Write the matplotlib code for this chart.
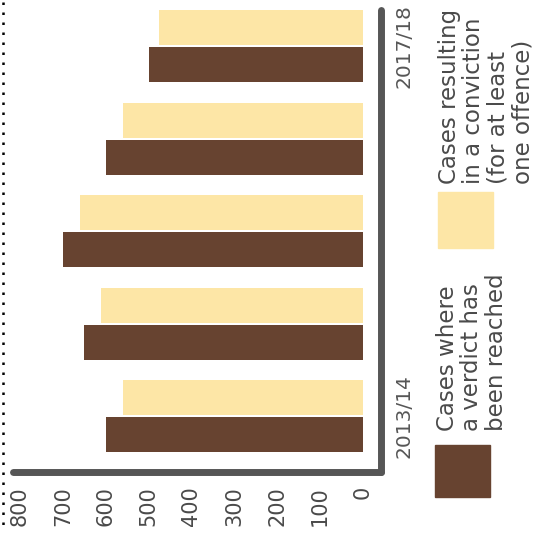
import matplotlib.pyplot as plt
import numpy as np
from matplotlib.patches import Rectangle
from matplotlib.lines import Line2D

# Court cases per year
years = ['2013/14', '2014/15', '2015/16', '2016/17', '2017/18']
verdict_reached = [600, 650, 700, 600, 500]
convictions = [560, 610, 660, 560, 475]
value_ticks = [0, 100, 200, 300, 400, 500, 600, 700, 800]

dark = '#674330'
light = '#fde6a6'
axis_grey = '#565656'
text_grey = '#4a4a4a'

W, H = 547, 538
fig = plt.figure(figsize=(W / 100, H / 100), dpi=100)
plt.rcParams['font.family'] = ['DejaVu Sans']


def fx(px):
    return px / W


def fy(py):
    return 1 - py / H


# axes box in pixels (left, right, top, bottom) - chart is drawn turned on its side
left, right, top, bottom = 10, 381, 5, 472
ax = fig.add_axes([fx(left), fy(bottom), fx(right) - fx(left), fy(top) - fy(bottom)])

idx = np.arange(len(years))
ax.barh(idx + 0.2, convictions, height=0.38, color=light, zorder=2)
ax.barh(idx - 0.2, verdict_reached, height=0.38, color=dark, zorder=2)

ax.set_xlim(823, -42)
ax.set_ylim(-0.606, 4.448)

for s in ['top', 'left']:
    ax.spines[s].set_visible(False)
for s in ['bottom', 'right']:
    ax.spines[s].set_linewidth(5)
    ax.spines[s].set_color(axis_grey)
    ax.spines[s].set_capstyle('round')
ax.spines['bottom'].set_bounds(815, -42)
ax.spines['right'].set_bounds(-0.606, 4.39)

ax.set_xticks(value_ticks)
ax.set_xticklabels([str(v) for v in value_ticks], rotation=90, fontsize=15,
                   color=text_grey, va='top', ha='center')
ax.tick_params(axis='x', length=0, pad=10)

ax.yaxis.tick_right()
ax.set_yticks([0, 4])
ax.set_yticklabels([years[0], years[-1]], rotation=90, fontsize=14.5,
                   color=axis_grey, va='center', ha='left')
ax.tick_params(axis='y', length=0, pad=10)

# legend, drawn by hand so its text can be turned like the rest
fig.add_artist(Rectangle((fx(435), fy(497)), fx(55), fy(445) - fy(497),
                         transform=fig.transFigure, color=dark))
fig.add_artist(Rectangle((fx(438), fy(248)), fx(55), fy(192) - fy(248),
                         transform=fig.transFigure, color=light))
fig.text(fx(436), fy(431), 'Cases where\na verdict has\nbeen reached',
         rotation=90, rotation_mode='anchor', ha='left', va='top',
         fontsize=16.5, color=text_grey, linespacing=1.08)
fig.text(fx(438), fy(184), 'Cases resulting\nin a conviction\n(for at least\none offence)',
         rotation=90, rotation_mode='anchor', ha='left', va='top',
         fontsize=16.5, color=text_grey, linespacing=1.08)

# dotted fold line down the left edge
fig.add_artist(Line2D([fx(3), fx(3)], [fy(2), fy(530)], transform=fig.transFigure,
                      color='black', lw=1.8, linestyle=(0, (1, 3))))

fig.savefig('out.png', dpi=100)
